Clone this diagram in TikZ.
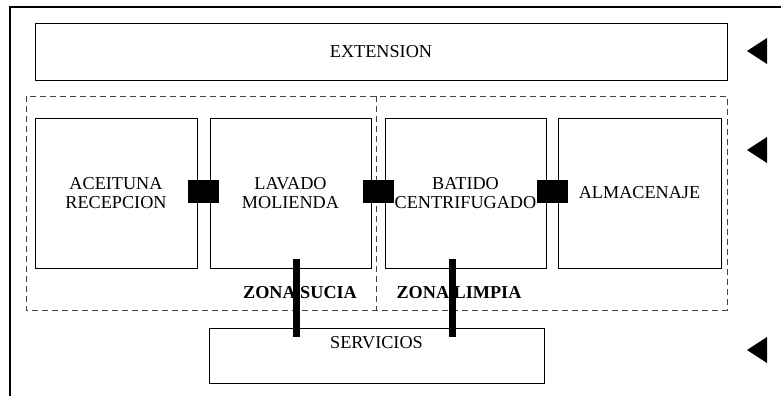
\documentclass[tikz,border=0pt]{standalone}
\usepackage{fontspec}
\setmainfont{Liberation Serif}
\usetikzlibrary{positioning,calc}

\begin{document}
\begin{tikzpicture}[
    x=1pt, y=-1pt,
    font=\fontsize{18.2}{19}\selectfont,
    node distance=13pt,
    box/.style={draw, line width=0.8pt, align=center, inner sep=0pt, outer sep=0pt, minimum height=150pt, minimum width=161pt},
    wide/.style={box, minimum height=57pt, minimum width=692pt},
    zona/.style={draw=black!75, line width=0.8pt, dash pattern=on 6pt off 4pt},
    puerta/.style={fill=black, inner sep=0pt, minimum width=31pt, minimum height=23pt},
    zonatxt/.style={font=\fontsize{18.2}{19}\selectfont\bfseries},
    bar/.style={line width=7pt}
]
\useasboundingbox (0,0) rectangle (781,396);

% marco exterior
\draw[line width=2.5pt] (781,7) -- (10,7) -- (10,396);

\node[wide] (ext) at (381,51.5) {\raisebox{-3pt}{EXTENSION}};

% zonas
\draw[zona] (26,96) rectangle (727,310);
\draw[zona] (376,96) -- (376,310);

\node[box, minimum width=162pt] (ace) at (116,193) {ACEITUNA\\RECEPCION};
\node[box, right=13pt of ace] (lav) {LAVADO\\MOLIENDA};
\node[box, right=14pt of lav] (bat) {BATIDO\\CENTRIFUGADO};
\node[box, right=12pt of bat, minimum width=163pt] (alm) {ALMACENAJE};

\node[box, minimum width=335pt, minimum height=55pt,
      label={[anchor=north, yshift=-5pt]north:SERVICIOS}] (serv) at (376.5,355.5) {};

\node[zonatxt] (sucia) at (300,293) {ZONA SUCIA};
\node[zonatxt] (limpia) at (459,293) {ZONA LIMPIA};

% puertas
\node[puerta] (p1) at ($(ace.east)!0.5!(lav.west)+(0,-1.5)$) {};
\node[puerta] (p2) at ($(lav.east)!0.5!(bat.west)+(0,-1.5)$) {};
\node[puerta] (p3) at ($(bat.east)!0.5!(alm.west)+(0,-1.5)$) {};

% pasos a servicios
\coordinate (b1) at ([shift={(5.5,-9)}]lav.south);
\coordinate (b2) at ([shift={(-13.5,-9)}]bat.south);
\draw[bar] (b1) -- (b1 |- serv.north) -- ++(0,9);
\draw[bar] (b2) -- (b2 |- serv.north) -- ++(0,9);

% marcas
\foreach \y in {51,150,350}
  \fill (767,\y-13) -- (747,\y) -- (767,\y+13) -- cycle;
\end{tikzpicture}
\end{document}
